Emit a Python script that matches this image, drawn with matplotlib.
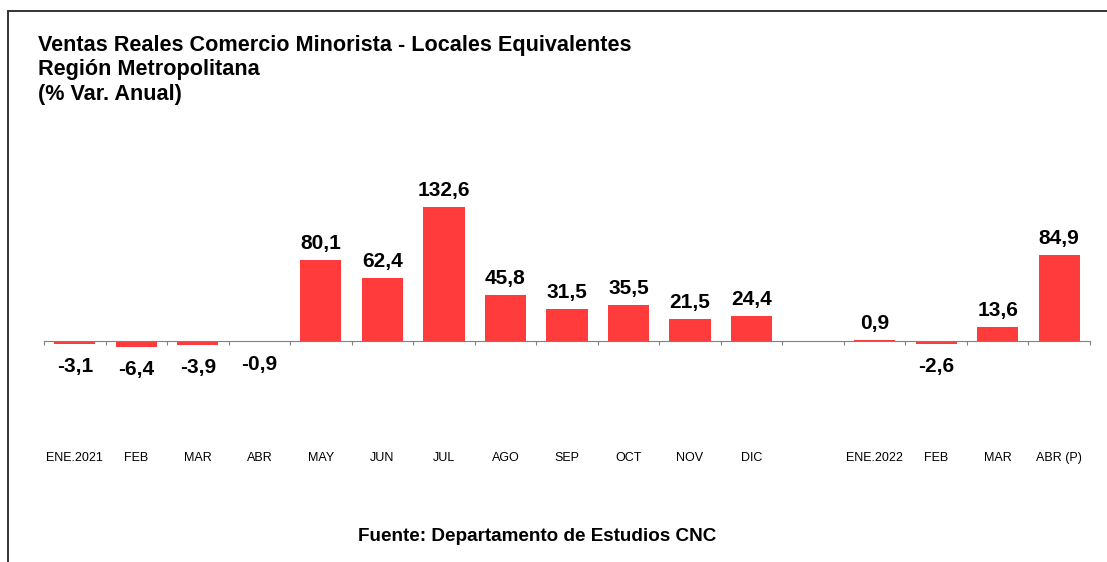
import matplotlib.pyplot as plt
from matplotlib.patches import Rectangle
import numpy as np

plt.rcParams['font.family'] = ['Liberation Sans', 'DejaVu Sans']

# datos (% var. anual); None = hueco entre años
meses = ['ENE.2021', 'FEB', 'MAR', 'ABR', 'MAY', 'JUN', 'JUL', 'AGO', 'SEP',
         'OCT', 'NOV', 'DIC', '', 'ENE.2022', 'FEB', 'MAR', 'ABR (P)']
valores = [-3.1, -6.4, -3.9, -0.9, 80.1, 62.4, 132.6, 45.8, 31.5,
           35.5, 21.5, 24.4, None, 0.9, -2.6, 13.6, 84.9]
titulo = ['Ventas Reales Comercio Minorista - Locales Equivalentes',
          'Región Metropolitana', '(% Var. Anual)']
fuente = 'Fuente: Departamento de Estudios CNC'

W, H = 1107, 562
fig = plt.figure(figsize=(W / 100, H / 100), dpi=100)

# marco exterior
fig.add_artist(Rectangle((8 / W, -0.1), 1.2, 1 - 11 / H + 0.1,
                         transform=fig.transFigure, fill=False,
                         edgecolor='#333333', linewidth=1.4))

ymin, ymax = -20, 190
ppu = 1.01
y0 = 341
bot = y0 + (-ymin) * ppu
top = y0 - ymax * ppu
ax = fig.add_axes([44 / W, 1 - bot / H, 1046 / W, (bot - top) / H])
ax.set_xlim(-0.5, len(meses) - 0.5)
ax.set_ylim(ymin, ymax)

x = np.arange(len(meses))
for xi, v in zip(x, valores):
    if v is None:
        continue
    ax.bar(xi, v, width=0.67, color='#ff3b3b', zorder=2)
    txt = f"{v:.1f}".replace('.', ',')
    if v >= 0:
        ax.annotate(txt, (xi, v), xytext=(0, 7), textcoords='offset pixels',
                    ha='center', va='bottom', fontsize=15, fontweight='bold')
    else:
        ax.annotate(txt, (xi, v), xytext=(0, -13), textcoords='offset pixels',
                    ha='center', va='top', fontsize=15, fontweight='bold')

# eje en cero
for s in ['top', 'right', 'left']:
    ax.spines[s].set_visible(False)
ax.spines['bottom'].set_position(('data', 0))
ax.spines['bottom'].set_color('#808080')
ax.set_yticks([])
ax.set_xticks(np.arange(len(meses) + 1) - 0.5)
ax.set_xticklabels([])
ax.tick_params(axis='x', which='major', direction='out', length=3, color='#808080')
ax.set_xticks(x, minor=True)
ax.set_xticklabels(meses, minor=True, fontsize=9)
ax.tick_params(axis='x', which='minor', length=0, pad=80)

for i, linea in enumerate(titulo):
    fig.text(38 / W, 1 - (51 + 24.5 * i) / H, linea, ha='left', va='baseline',
             fontsize=15.6, fontweight='bold')
fig.text(537 / W, 1 - 541 / H, fuente, ha='center', va='baseline',
         fontsize=13.6, fontweight='bold')

fig.savefig('out.png', dpi=100)
